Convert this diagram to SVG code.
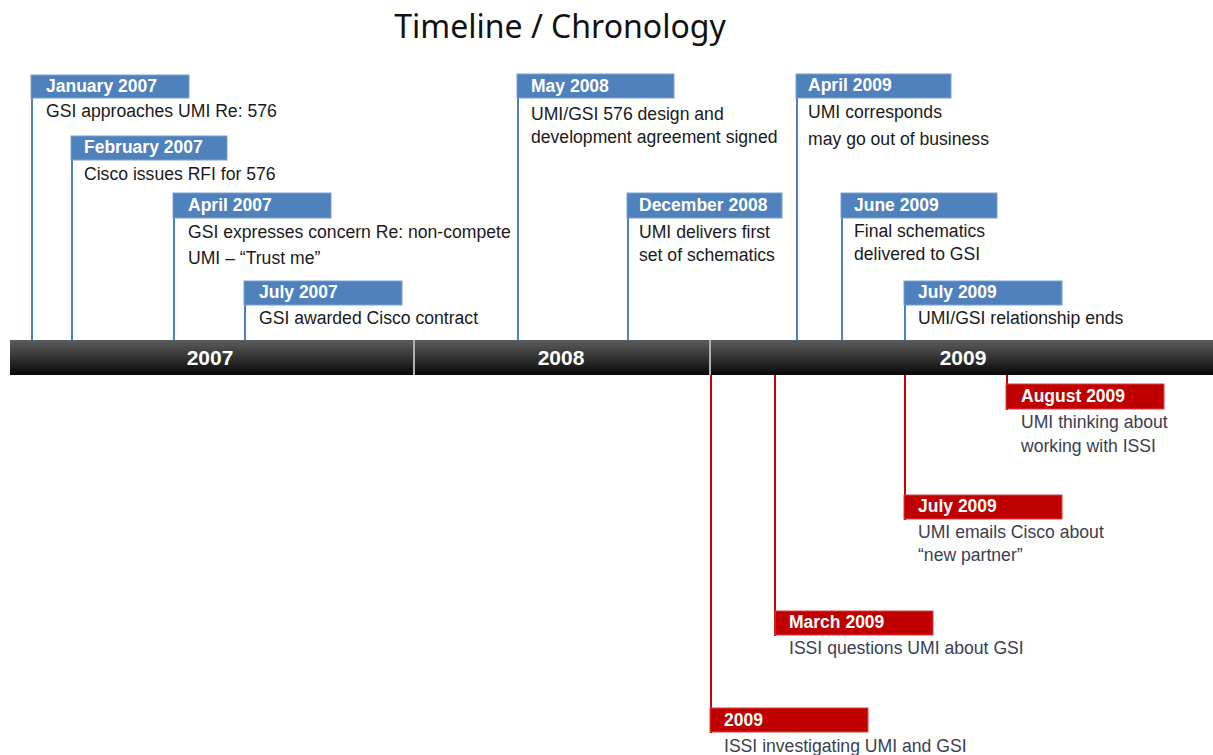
<svg xmlns="http://www.w3.org/2000/svg" width="1213" height="755" viewBox="0 0 1213 755">
<defs>
<linearGradient id="barg" x1="0" y1="0" x2="0" y2="1">
<stop offset="0" stop-color="#5c5c5c"/>
<stop offset="0.5" stop-color="#333333"/>
<stop offset="1" stop-color="#080808"/>
</linearGradient>
</defs>
<style>
.title{font-family:"Noto Sans","Open Sans",sans-serif;font-size:32px;fill:#111}
.lab{font-family:"Liberation Sans",Arial,sans-serif;font-size:17.5px;font-weight:bold;fill:#fff}
.body{font-family:"Liberation Sans",Arial,sans-serif;font-size:17.6px;fill:#1a1a1a}
.rbody{font-family:"Liberation Sans",Arial,sans-serif;font-size:17.6px;fill:#3a4050}
.year{font-family:"Liberation Sans",Arial,sans-serif;font-size:21px;font-weight:bold;fill:#fff}
.bbox{fill:#4f81bd;stroke:#7aa0d0;stroke-width:1}
.rbox{fill:#c00000;stroke:#d84040;stroke-width:1}
.bl{stroke:#4f81bd;stroke-width:2;fill:none}
.rl{stroke:#d00000;stroke-width:2;fill:none}
</style>
<rect width="1213" height="755" fill="#fff"/>
<text class="title" x="560" y="38" text-anchor="middle">Timeline / Chronology</text>

<g id="connectors">
<line class="bl" x1="32" y1="75" x2="32" y2="340"/>
<line class="bl" x1="72" y1="136" x2="72" y2="340"/>
<line class="bl" x1="174" y1="193" x2="174" y2="340"/>
<line class="bl" x1="245" y1="281" x2="245" y2="340"/>
<line class="bl" x1="518" y1="74" x2="518" y2="340"/>
<line class="bl" x1="628" y1="193" x2="628" y2="340"/>
<line class="bl" x1="797" y1="74" x2="797" y2="340"/>
<line class="bl" x1="842" y1="193" x2="842" y2="340"/>
<line class="bl" x1="905" y1="281" x2="905" y2="340"/>
<line class="rl" x1="711" y1="375" x2="711" y2="733"/>
<line class="rl" x1="775" y1="375" x2="775" y2="636"/>
<line class="rl" x1="905" y1="375" x2="905" y2="520"/>
<line class="rl" x1="1007" y1="375" x2="1007" y2="410"/>
</g>

<g id="timeline-bar">
<rect x="10" y="340" width="1203" height="35" fill="url(#barg)"/>
<line x1="414" y1="340" x2="414" y2="375" stroke="#b0b0b0" stroke-width="2"/>
<line x1="710" y1="340" x2="710" y2="375" stroke="#b0b0b0" stroke-width="2"/>
<text class="year" x="210" y="365" text-anchor="middle">2007</text>
<text class="year" x="561" y="365" text-anchor="middle">2008</text>
<text class="year" x="963" y="365" text-anchor="middle">2009</text>
</g>

<g id="jan2007">
<rect class="bbox" x="31" y="75" width="158" height="23"/>
<text class="lab" x="46" y="92">January 2007</text>
<text class="body" x="46" y="117">GSI approaches UMI Re: 576</text>
</g>
<g id="feb2007">
<rect class="bbox" x="71" y="136" width="156" height="24"/>
<text class="lab" x="84" y="153">February 2007</text>
<text class="body" x="84" y="180">Cisco issues RFI for 576</text>
</g>
<g id="apr2007">
<rect class="bbox" x="173" y="193" width="158" height="25"/>
<text class="lab" x="188" y="211">April 2007</text>
<text class="body" x="188" y="238">GSI expresses concern Re: non-compete</text>
<text class="body" x="188" y="264">UMI – “Trust me”</text>
</g>
<g id="jul2007">
<rect class="bbox" x="244" y="281" width="158" height="24"/>
<text class="lab" x="259" y="298">July 2007</text>
<text class="body" x="259" y="324">GSI awarded Cisco contract</text>
</g>
<g id="may2008">
<rect class="bbox" x="517" y="74" width="157" height="24"/>
<text class="lab" x="531" y="92">May 2008</text>
<text class="body" x="531" y="120">UMI/GSI 576 design and</text>
<text class="body" x="531" y="143">development agreement signed</text>
</g>
<g id="dec2008">
<rect class="bbox" x="627" y="193" width="155" height="25"/>
<text class="lab" x="639" y="211">December 2008</text>
<text class="body" x="639" y="238">UMI delivers first</text>
<text class="body" x="639" y="261">set of schematics</text>
</g>
<g id="apr2009">
<rect class="bbox" x="796" y="74" width="155" height="24"/>
<text class="lab" x="808" y="91">April 2009</text>
<text class="body" x="808" y="118">UMI corresponds</text>
<text class="body" x="808" y="145">may go out of business</text>
</g>
<g id="jun2009">
<rect class="bbox" x="841" y="193" width="156" height="25"/>
<text class="lab" x="854" y="211">June 2009</text>
<text class="body" x="854" y="237">Final schematics</text>
<text class="body" x="854" y="260">delivered to GSI</text>
</g>
<g id="jul2009">
<rect class="bbox" x="904" y="281" width="158" height="24"/>
<text class="lab" x="918" y="298">July 2009</text>
<text class="body" x="918" y="324">UMI/GSI relationship ends</text>
</g>

<g id="aug2009-red">
<rect class="rbox" x="1006" y="384" width="158" height="25"/>
<text class="lab" x="1021" y="402">August 2009</text>
<text class="rbody" x="1021" y="428">UMI thinking about</text>
<text class="rbody" x="1021" y="452">working with ISSI</text>
</g>
<g id="jul2009-red">
<rect class="rbox" x="904" y="495" width="158" height="24"/>
<text class="lab" x="918" y="512">July 2009</text>
<text class="rbody" x="918" y="538">UMI emails Cisco about</text>
<text class="rbody" x="918" y="561">“new partner”</text>
</g>
<g id="mar2009-red">
<rect class="rbox" x="775" y="611" width="158" height="24"/>
<text class="lab" x="789" y="628">March 2009</text>
<text class="rbody" x="789" y="654">ISSI questions UMI about GSI</text>
</g>
<g id="y2009-red">
<rect class="rbox" x="710" y="708" width="158" height="24"/>
<text class="lab" x="724" y="726">2009</text>
<text class="rbody" x="724" y="752">ISSI investigating UMI and GSI</text>
</g>
</svg>
